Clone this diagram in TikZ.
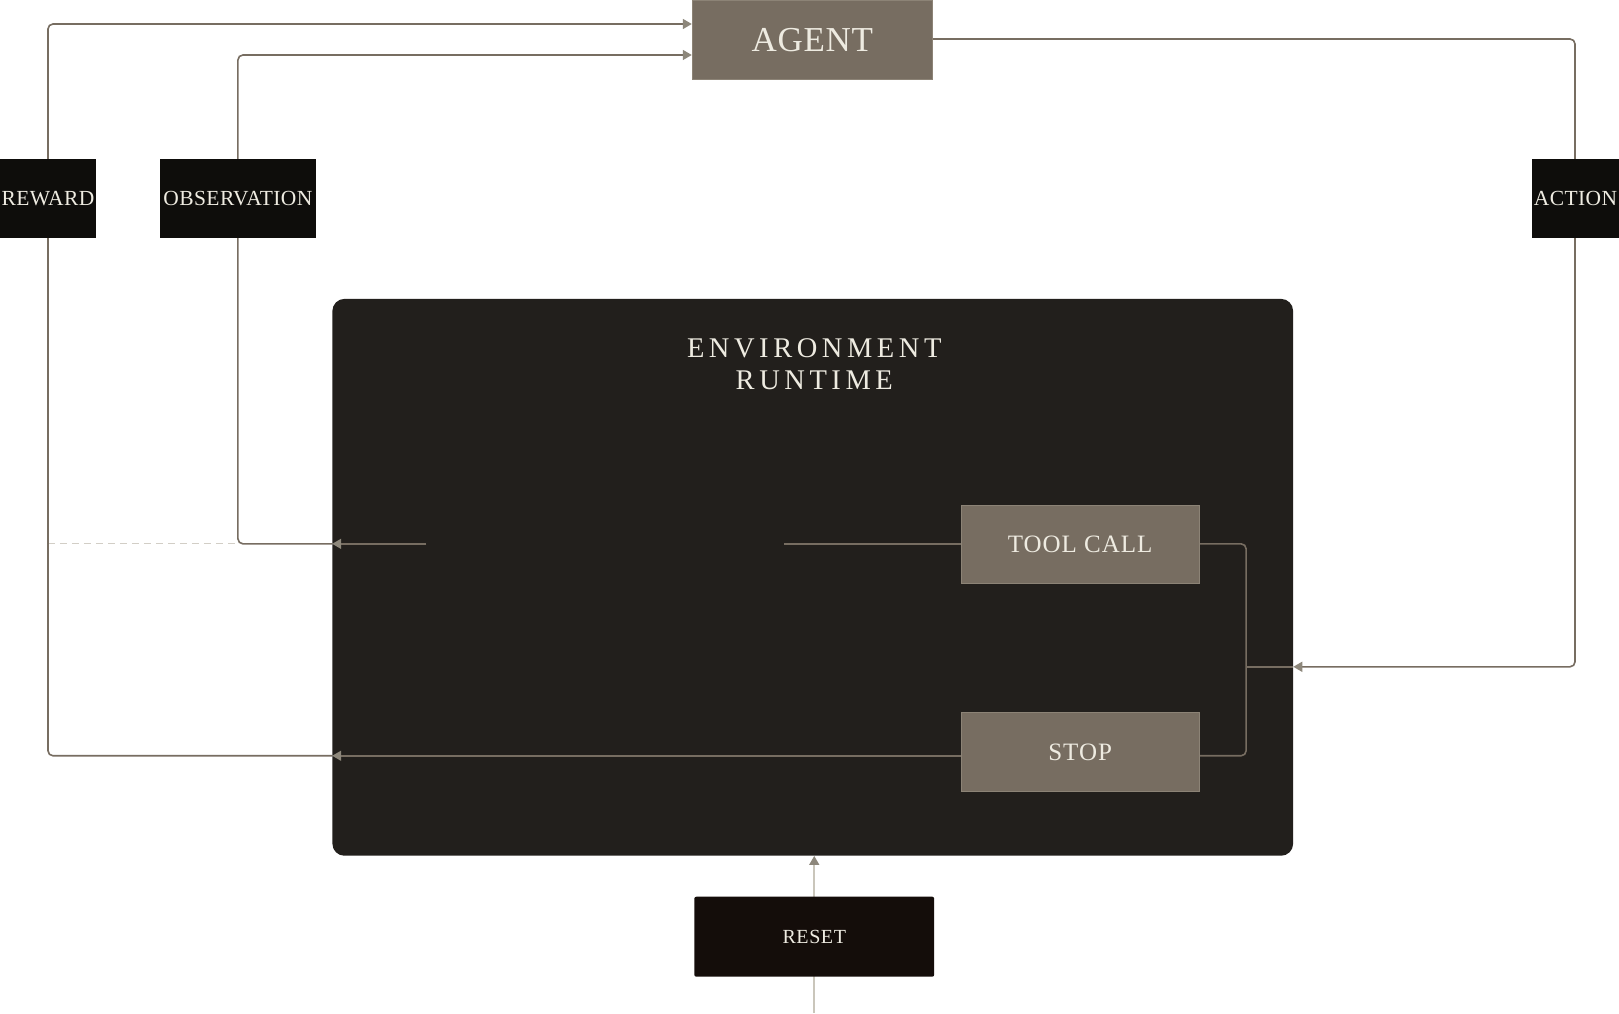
\documentclass[tikz,border=0pt]{standalone}
\usepackage{fontspec}
\setmainfont{Liberation Serif}
\usetikzlibrary{arrows.meta}
\definecolor{wire}{HTML}{776D61}
\definecolor{tipc}{HTML}{8D877B}
\definecolor{agentfill}{HTML}{776D61}
\definecolor{agentline}{HTML}{8C8376}
\definecolor{envfill}{HTML}{221F1C}
\definecolor{labelfill}{HTML}{0E0D0B}
\definecolor{resetfill}{HTML}{140D0A}
\definecolor{cream}{HTML}{EEEBE1}
\definecolor{lightwire}{HTML}{CAC6BB}
\definecolor{dashc}{HTML}{D2CEC6}
\pgfdeclarelayer{back}
\pgfdeclarelayer{mid}
\pgfsetlayers{back,mid,main}
\tikzset{
  wireline/.style={draw=wire, line width=1.6pt, rounded corners=5pt},
  tipped/.style={-{Triangle[length=9pt,width=10pt,color=tipc]}},
  graybox/.style={draw=agentline, line width=1pt, fill=agentfill, text=cream, inner sep=0pt},
  labelbox/.style={fill=labelfill, text=cream, minimum width=96pt, minimum height=79pt, inner sep=0pt,
     font=\fontsize{21.5}{24}\selectfont\addfontfeatures{LetterSpace=2}},
}
\begin{document}
\begin{tikzpicture}[x=1pt,y=-1pt]
\begin{pgfonlayer}{back}
\useasboundingbox[fill=white] (0,0) rectangle (1619,1012);
\node[fill=envfill, rounded corners=12pt, minimum width=961pt, minimum height=557pt, inner sep=0pt] (env) at (812.5,576.5) {};
\end{pgfonlayer}

\node[text=cream, align=center, font=\fontsize{28.5}{32}\selectfont\addfontfeatures{LetterSpace=16}] (envtitle) at (814,363) {ENVIRONMENT\\RUNTIME};

\node[graybox, minimum width=240pt, minimum height=79pt, font=\fontsize{35}{40}\selectfont\addfontfeatures{LetterSpace=2}] (agent) at (812,39) {AGENT};
\node[graybox, minimum width=238pt, minimum height=78pt, font=\fontsize{25}{30}\selectfont\addfontfeatures{LetterSpace=4}] (tool) at (1080,543.5) {TOOL CALL};
\node[graybox, minimum width=238pt, minimum height=79pt, font=\fontsize{25}{30}\selectfont\addfontfeatures{LetterSpace=4}] (stop) at (1080,751.5) {STOP};
\node[fill=resetfill, rounded corners=2pt, text=cream, minimum width=240pt, minimum height=80pt, inner sep=0pt, font=\fontsize{20}{24}\selectfont\addfontfeatures{LetterSpace=3}] (reset) at (814,936) {RESET};

\node[labelbox] (reward) at (47.5,197.5) {REWARD};
\node[labelbox, minimum width=156pt] (obs) at (237.5,197.5) {OBSERVATION};
\node[labelbox, minimum width=87pt] (action) at (1575.5,197.5) {ACTION};

\coordinate (rewX) at (47.5,23);
\coordinate (obsX) at (237.5,54);
\coordinate (actX) at (1575,38);
\coordinate (obsIn) at (426,543);
\coordinate (toolOut) at (784,543);
\coordinate (joinX) at (1246,666);
\coordinate (actY) at (0,666);
\coordinate (stopY) at (0,755);
\coordinate (resetBot) at (814,1012);

\begin{pgfonlayer}{mid}
% observation
\draw[wireline] (tool.west |- toolOut) -- (toolOut);
\draw[wireline, tipped] (obsIn) -- (env.west |- obsIn);
\draw[wireline, tipped] (env.west |- obsIn) -- (obsX |- obsIn) -- (obsX) -- (agent.west |- obsX);
\draw[dashc, line width=1.3pt, dash pattern=on 7pt off 5pt] (rewX |- obsIn) -- (obsX |- obsIn);
% reward
\draw[wireline, tipped] (stop.west |- stopY) -- (env.west |- stopY);
\draw[wireline, tipped] (env.west |- stopY) -- (rewX |- stopY) -- (rewX) -- (agent.west |- rewX);
% action
\draw[wireline, tipped] (agent.east |- actX) -- (actX) -- (actX |- actY) -- (env.east |- actY);
\draw[wireline] (tool.east |- toolOut) -- (joinX |- toolOut) -- (joinX |- stopY) -- (stop.east |- stopY);
\draw[wireline] (joinX) -- (env.east |- joinX);
% reset
\draw[lightwire, line width=1.6pt, -{Triangle[length=9pt,width=10pt,color=tipc]}] (resetBot) -- (env.south -| resetBot);
\end{pgfonlayer}
\end{tikzpicture}
\end{document}
